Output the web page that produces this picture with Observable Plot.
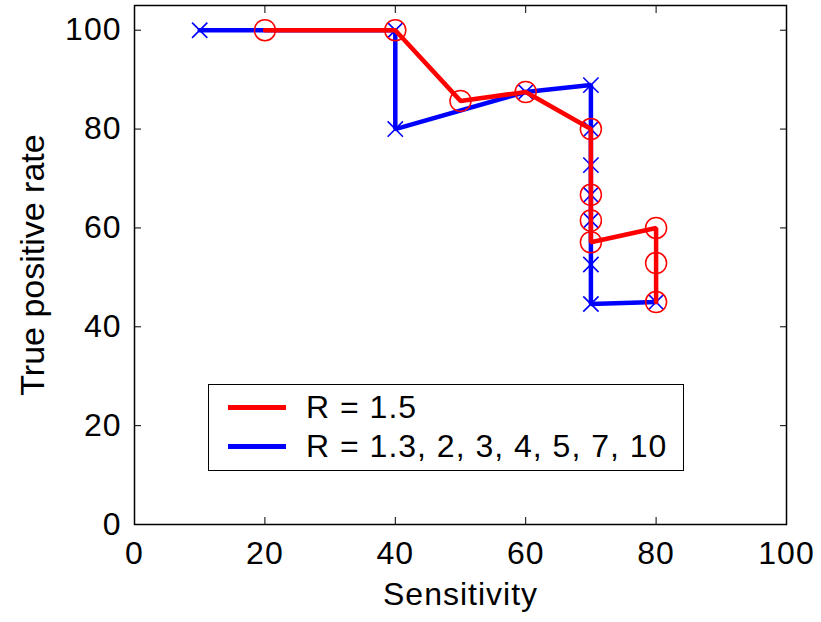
<!DOCTYPE html>
<html>
<head>
<meta charset="utf-8">
<script src="https://cdn.jsdelivr.net/npm/d3@7"></script>
<script src="https://cdn.jsdelivr.net/npm/@observablehq/plot@0.6"></script>
<style>
  html, body { margin: 0; padding: 0; background: white; }
  #wrap { position: relative; width: 821px; height: 622px; font-family: "Liberation Sans", Arial, sans-serif; }
  #legend { position: absolute; left: 208px; top: 384px; width: 476px; height: 87px; border: 1.5px solid black; background: white; box-sizing: border-box; }
  .sw { position: absolute; left: 19px; width: 58px; height: 4.5px; }
  .lt { position: absolute; left: 97px; font-size: 32px; line-height: 32px; color: black; white-space: nowrap; letter-spacing: 1px; }
</style>
</head>
<body>
<div id="wrap"></div>
<script>
// Data
const xTicks = [0, 20, 40, 60, 80, 100];
const yTicks = [0, 20, 40, 60, 80, 100];

const xLabel = "Sensitivity";
const yLabel = "True positive rate";

const redLabel = "R = 1.5";
const redX = [20, 40, 50, 60, 70, 70, 70, 70, 80, 80, 80];
const redY = [100, 100, 85.7, 87.5, 80, 66.7, 61.5, 57.1, 60, 52.9, 45];

const blueLabel = "R = 1.3, 2, 3, 4, 5, 7, 10";
const blueX = [10, 40, 40, 60, 70, 70, 70, 70, 70, 70, 70, 80];
const blueY = [100, 100, 80, 87.5, 88.9, 80, 72.7, 66.7, 61.5, 52.6, 44.6, 45];

const red = redX.map((x, i) => ({x, y: redY[i]}));
const blue = blueX.map((x, i) => ({x, y: blueY[i]}));

const RED = "#ff0000", BLUE = "#0000ff";

const chart = Plot.plot({
  width: 821,
  height: 622,
  marginLeft: 134,
  marginRight: 35,
  marginTop: 5,
  marginBottom: 98,
  x: {domain: [0, 100]},
  y: {domain: [0, 105]},
  style: {fontFamily: "'Liberation Sans', Arial, sans-serif", fontSize: "32px", background: "white", color: "black"},
  marks: [
    Plot.frame({stroke: "black", strokeWidth: 1.5}),
    Plot.axisX(xTicks, {anchor: "bottom", tickSize: -7, tickPadding: 24, label: null, fontSize: 32, tickFormat: d => String(d)}),
    Plot.axisX(xTicks, {anchor: "top", tickSize: -7, label: null, tickFormat: () => ""}),
    Plot.axisY(yTicks, {anchor: "left", tickSize: -7, tickPadding: 20, label: null, fontSize: 32, tickFormat: d => String(d)}),
    Plot.axisY(yTicks, {anchor: "right", tickSize: -7, label: null, tickFormat: () => ""}),
    Plot.line(blue, {x: "x", y: "y", stroke: BLUE, strokeWidth: 4.5, strokeLinejoin: "miter"}),
    Plot.dot(blue, {x: "x", y: "y", symbol: "times", r: 7, stroke: BLUE, strokeWidth: 1.6}),
    Plot.line(red, {x: "x", y: "y", stroke: RED, strokeWidth: 4.5, strokeLinejoin: "miter"}),
    Plot.dot(red, {x: "x", y: "y", r: 10.5, stroke: RED, fill: "none", strokeWidth: 1.5}),
    Plot.text([xLabel], {text: d => d, frameAnchor: "bottom", dy: 80, fontSize: 32, textAnchor: "middle"}),
    Plot.text([yLabel], {text: d => d, frameAnchor: "left", dx: -101, rotate: -90, fontSize: 34, textAnchor: "middle"})
  ]
});

// slightly wider letter spacing on horizontal texts only
d3.select(chart).selectAll("text")
  .filter(function() { return this.textContent !== yLabel; })
  .style("letter-spacing", "1px");

const wrap = document.getElementById("wrap");
wrap.appendChild(chart);

// Legend overlay
const legend = document.createElement("div");
legend.id = "legend";
const items = [[redLabel, RED, 22], [blueLabel, BLUE, 61]];
for (const [label, color, cy] of items) {
  const sw = document.createElement("div");
  sw.className = "sw";
  sw.style.background = color;
  sw.style.top = (cy - 2) + "px";
  legend.appendChild(sw);
  const t = document.createElement("div");
  t.className = "lt";
  t.style.top = (cy - 16) + "px";
  t.textContent = label;
  legend.appendChild(t);
}
wrap.appendChild(legend);
</script>
</body>
</html>
